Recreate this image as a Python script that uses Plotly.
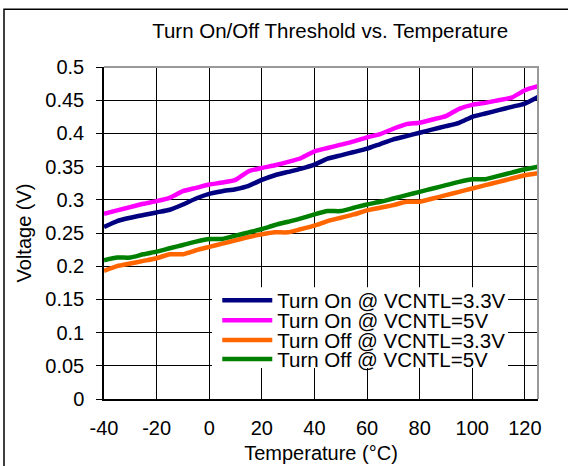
import plotly.graph_objects as go

# temperature (°C), 5 degree steps
temperature = list(range(-40, 130, 5))
x_ticks = [-40, -20, 0, 20, 40, 60, 80, 100, 120]
x_tick_labels = ["-40", "-20", "0", "20", "40", "60", "80", "100", "120"]

turn_on_33 = [0.259, 0.268, 0.273, 0.277, 0.281, 0.285, 0.293, 0.302, 0.309, 0.313,
              0.316, 0.321, 0.330, 0.337, 0.342, 0.347, 0.353, 0.362, 0.367, 0.372,
              0.377, 0.384, 0.391, 0.396, 0.401, 0.406, 0.411, 0.416, 0.425, 0.430,
              0.435, 0.440, 0.445, 0.455]
turn_on_5 = [0.279, 0.284, 0.289, 0.294, 0.298, 0.303, 0.313, 0.318, 0.323, 0.326,
             0.330, 0.343, 0.348, 0.352, 0.357, 0.363, 0.373, 0.378, 0.383, 0.388,
             0.394, 0.399, 0.407, 0.414, 0.416, 0.421, 0.426, 0.437, 0.443, 0.446,
             0.450, 0.454, 0.465, 0.471]
turn_off_33 = [0.193, 0.200, 0.204, 0.208, 0.212, 0.218, 0.218, 0.224, 0.229, 0.234,
               0.239, 0.244, 0.248, 0.251, 0.251, 0.256, 0.261, 0.268, 0.273, 0.278,
               0.284, 0.288, 0.292, 0.297, 0.297, 0.302, 0.307, 0.312, 0.317, 0.322,
               0.327, 0.332, 0.337, 0.340]
turn_off_5 = [0.209, 0.213, 0.213, 0.218, 0.222, 0.227, 0.232, 0.237, 0.241, 0.241,
              0.246, 0.251, 0.256, 0.262, 0.267, 0.272, 0.278, 0.283, 0.283, 0.288,
              0.293, 0.297, 0.302, 0.307, 0.312, 0.317, 0.322, 0.327, 0.331, 0.331,
              0.336, 0.341, 0.346, 0.350]

series = [
    ("Turn On @ VCNTL=3.3V", turn_on_33, "#000080"),
    ("Turn On @ VCNTL=5V", turn_on_5, "#ff00ff"),
    ("Turn Off @ VCNTL=3.3V", turn_off_33, "#ff6600"),
    ("Turn Off @ VCNTL=5V", turn_off_5, "#008000"),
]

FONT = "Liberation Sans, Arial, sans-serif"
legend_rows = [0.297, 0.237, 0.177, 0.120]

fig = go.Figure()
for i, (name, vals, color) in enumerate(series):
    leg = "legend" if i == 0 else f"legend{i + 1}"
    fig.add_trace(go.Scatter(
        x=temperature, y=vals, name=name, mode="lines",
        line=dict(color=color, width=4.5, shape="spline", smoothing=0.5),
        legend=leg,
    ))

# one legend per row so the rows can sit as tight as in the reference
legends = {}
for i, yy in enumerate(legend_rows):
    key = "legend" if i == 0 else f"legend{i + 1}"
    legends[key] = dict(
        x=0.261, y=yy, xanchor="left", yanchor="middle",
        bgcolor="rgba(0,0,0,0)", borderwidth=0, itemwidth=50,
        font=dict(family=FONT, size=20.5, color="black"),
    )

fig.update_layout(
    width=568, height=466,
    margin=dict(l=104, r=30, t=67, b=67, autoexpand=False),
    paper_bgcolor="white", plot_bgcolor="white",
    font=dict(family=FONT, size=20, color="black"),
    title=dict(text="Turn On/Off Threshold vs. Temperature", x=0.521, xref="paper",
               xanchor="center", y=1 - 31 / 466, yanchor="middle",
               font=dict(family=FONT, size=20.5, color="black")),
    showlegend=True,
    **legends,
)

fig.update_xaxes(
    range=[-40, 125], tickvals=x_ticks, ticktext=x_tick_labels,
    showgrid=True, gridcolor="black", gridwidth=1,
    showline=True, linecolor="black", linewidth=1.5,
    ticks="", ticklabelstandoff=10, zeroline=False, automargin=False,
    title=dict(text="Temperature (°C)", standoff=8, font=dict(size=20)),
    tickfont=dict(size=20),
)
fig.update_yaxes(
    range=[0, 0.5], dtick=0.05, tickformat="~g",
    showgrid=True, gridcolor="black", gridwidth=1,
    showline=True, linecolor="black", linewidth=1.5,
    ticks="outside", ticklen=6, tickcolor="black",
    ticklabelstandoff=8, zeroline=False, automargin=False,
    title=dict(text="Voltage (V)", standoff=8, font=dict(size=20)),
    tickfont=dict(size=20),
)

# white legend box over the grid
fig.add_shape(type="rect", xref="paper", yref="paper",
              x0=(212 - 104) / 434, x1=(508 - 104) / 434,
              y0=(399 - 368) / 333, y1=(399 - 287) / 333,
              fillcolor="white", line=dict(width=0), layer="above")
# gray frame on top/right of plot area, outer chart border
fig.add_shape(type="path", xref="paper", yref="paper",
              path="M 0 1 L 1 1 L 1 0", line=dict(color="#999999", width=2), layer="above")
fig.add_shape(type="rect", xref="paper", yref="paper",
              x0=-0.2304, x1=1.12, y0=-0.22, y1=1.174,
              line=dict(color="black", width=1.5), layer="below")

fig.write_html("out.html", config={"displayModeBar": False},
               post_script="document.body.style.margin='0';")
